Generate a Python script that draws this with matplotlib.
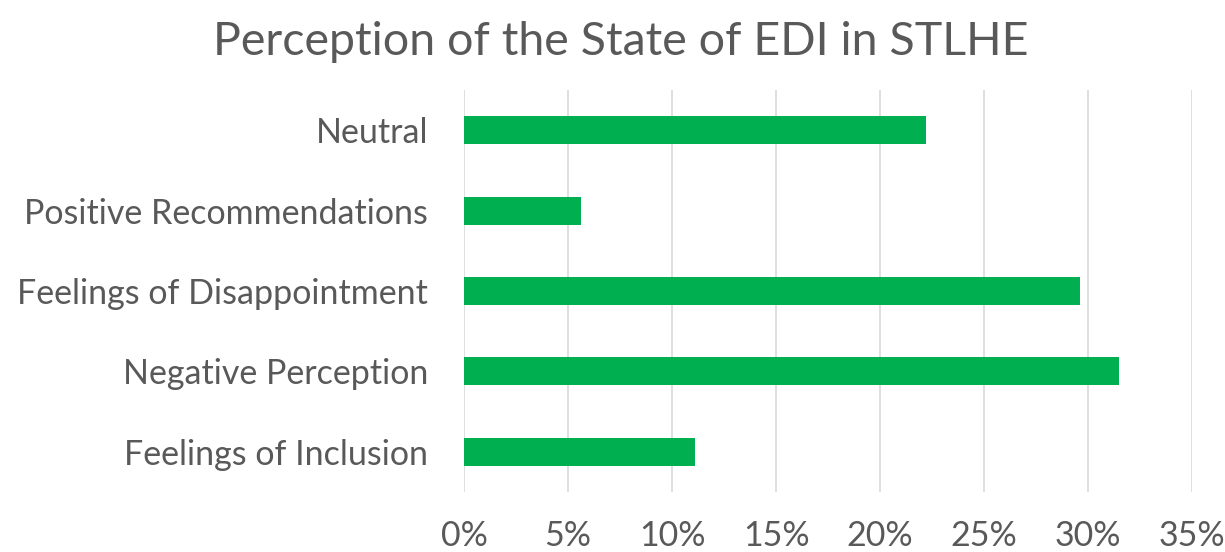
import numpy as np
import matplotlib.pyplot as plt
from matplotlib.ticker import PercentFormatter

plt.rcParams['font.family'] = ['Lato', 'DejaVu Sans']

categories = ['Feelings of Inclusion', 'Negative Perception', 'Feelings of Disappointment',
              'Positive Recommendations', 'Neutral']
values = [11.1, 31.5, 29.6, 5.6, 22.2]
xticks = [0, 5, 10, 15, 20, 25, 30, 35]

fig = plt.figure(figsize=(12.25, 5.52), dpi=100)
ax = fig.add_axes([0.3788, 0.1087, 0.5943, 0.7283])

y = np.arange(len(categories))
ax.barh(y, values, height=0.35, color='#00B050', zorder=3)

ax.set_xlim(0, 35)
ax.set_ylim(-0.5, len(categories) - 0.5)
ax.set_xticks(xticks)
ax.xaxis.set_major_formatter(PercentFormatter(decimals=0))
ax.set_yticks(y)
ax.set_yticklabels(categories)
ax.grid(axis='x', color='#d9d9d9', linewidth=1.2, zorder=0)
for s in ax.spines.values():
    s.set_visible(False)
ax.tick_params(axis='both', length=0, labelsize=24.5, labelcolor='#595959')
ax.tick_params(axis='x', pad=20)
ax.tick_params(axis='y', pad=26)

fig.suptitle('Perception of the State of EDI in STLHE', fontsize=33.5, color='#595959',
             x=0.507, y=0.962)

fig.savefig('out.png', dpi=100)
